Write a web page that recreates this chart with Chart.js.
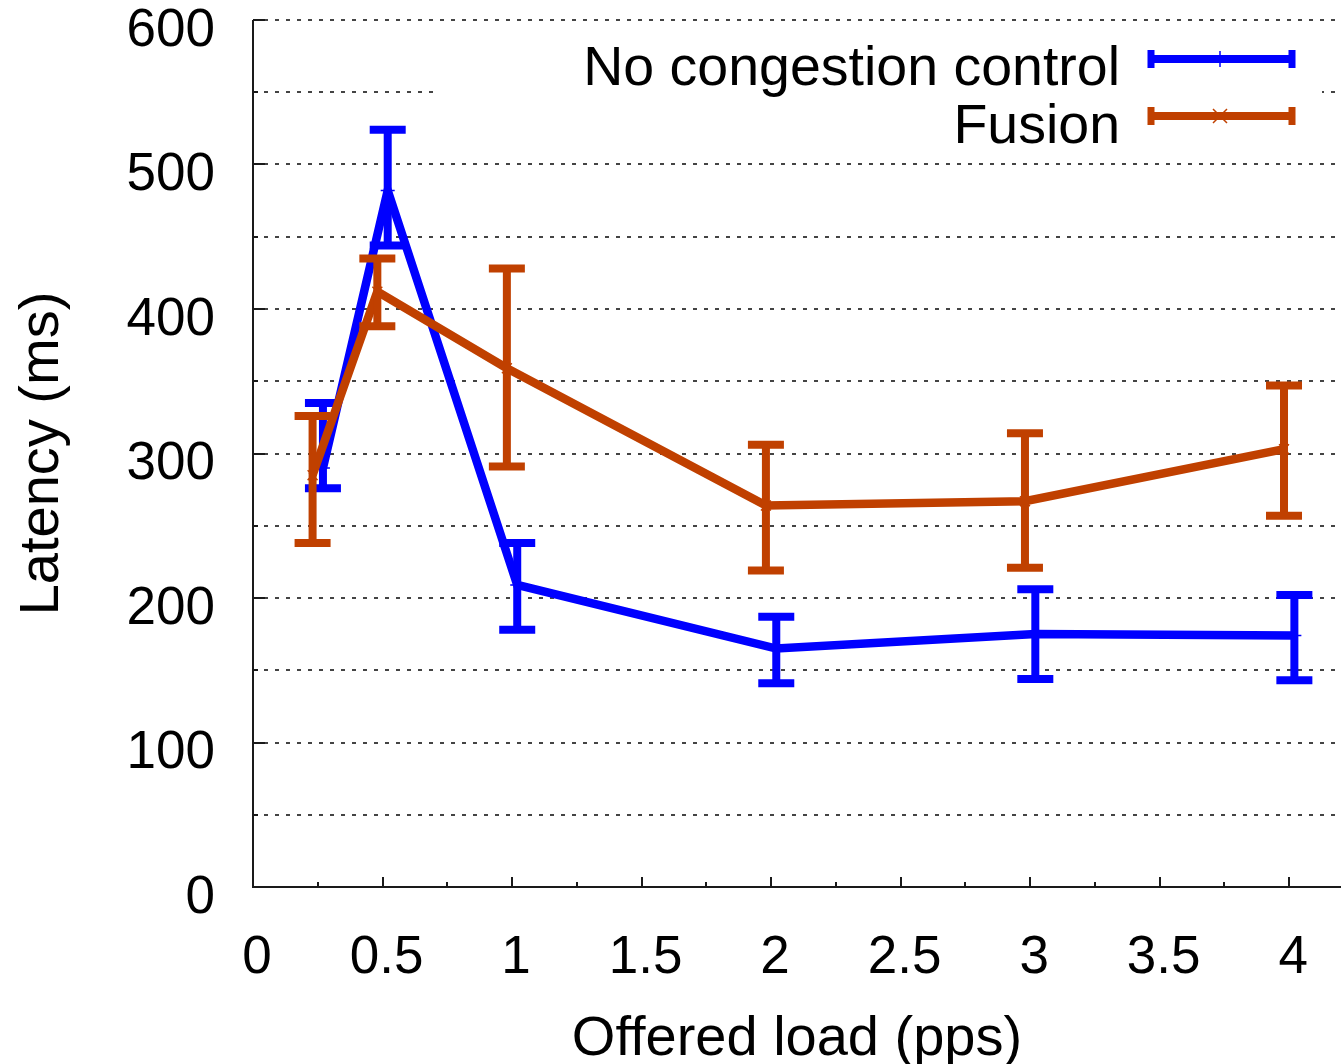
<!DOCTYPE html>
<html>
<head>
<meta charset="utf-8">
<title>Latency vs offered load</title>
<script src="https://cdn.jsdelivr.net/npm/chart.js@4.4.1/dist/chart.umd.min.js"></script>
<style>
  html, body { margin: 0; padding: 0; background: #ffffff; }
  #latency-chart { display: block; }
</style>
</head>
<body>
<canvas id="latency-chart" width="1341" height="1064"></canvas>
<script>
// offered load (pps) for each measurement
const loads = [0.25, 0.5, 1, 2, 3, 4];

// No congestion control: mean latency and error bar ends (ms)
const noCcLatency = [290, 482, 209, 165, 175, 174];
const noCcLow = [276, 444, 178, 141, 144, 143];
const noCcHigh = [335, 524, 238, 187, 206, 202];

// Fusion: mean latency and error bar ends (ms)
const fusionLatency = [285, 412, 359, 264, 267, 303];
const fusionLow = [238, 388, 291, 219, 221, 257];
const fusionHigh = [326, 435, 428, 306, 314, 347];

const seriesNames = ["No congestion control", "Fusion"];
const xTicks = [0, 0.5, 1, 1.5, 2, 2.5, 3, 3.5, 4];
const yTicks = [0, 100, 200, 300, 400, 500, 600];

const BLUE = "#0000ff";
const ORANGE = "#c04000";
const FONT = "'Liberation Sans', Arial, Helvetica, sans-serif";

// the two series are nudged apart a little on x so the bars don't overlap
function toPoints(values, shift) {
  return values.map((v, i) => ({ x: loads[i] + shift, y: v }));
}

const errorBars = {
  id: "errorBars",
  afterDatasetDraw(chart, args) {
    const ds = chart.data.datasets[args.index];
    if (!ds.errLow) return;
    const { ctx } = chart;
    const xs = chart.scales.x;
    const ys = chart.scales.y;
    ctx.save();
    ctx.strokeStyle = ds.borderColor;
    ctx.lineWidth = 8;
    ctx.lineCap = "butt";
    ds.data.forEach((p, i) => {
      const px = xs.getPixelForValue(p.x);
      const lo = ys.getPixelForValue(ds.errLow[i]);
      const hi = ys.getPixelForValue(ds.errHigh[i]);
      ctx.beginPath();
      ctx.moveTo(px, lo);
      ctx.lineTo(px, hi);
      ctx.moveTo(px - 18, lo);
      ctx.lineTo(px + 18, lo);
      ctx.moveTo(px - 18, hi);
      ctx.lineTo(px + 18, hi);
      ctx.stroke();
    });
    ctx.restore();
  },
};

const gnuplotFrame = {
  id: "gnuplotFrame",
  beforeDatasetsDraw(chart) {
    const { ctx, chartArea } = chart;
    const xs = chart.scales.x;
    const ys = chart.scales.y;
    ctx.save();

    // dotted grid at every major and minor y tick
    ctx.strokeStyle = "#444444";
    ctx.lineWidth = 2;
    ctx.setLineDash([4, 7]);
    for (let v = 50; v <= 600; v += 50) {
      const py = Math.round(ys.getPixelForValue(v));
      ctx.beginPath();
      ctx.moveTo(chartArea.left, py);
      ctx.lineTo(chartArea.right, py);
      ctx.stroke();
    }
    ctx.setLineDash([]);

    // axes
    ctx.strokeStyle = "#1a1a1a";
    ctx.beginPath();
    ctx.moveTo(chartArea.left, chartArea.top);
    ctx.lineTo(chartArea.left, chartArea.bottom);
    ctx.lineTo(chartArea.right, chartArea.bottom);
    ctx.stroke();

    // tick marks pointing inward
    ctx.beginPath();
    for (let v = 50; v <= 600; v += 50) {
      const py = Math.round(ys.getPixelForValue(v));
      const len = v % 100 === 0 ? 12 : 5;
      ctx.moveTo(chartArea.left, py);
      ctx.lineTo(chartArea.left + len, py);
    }
    for (let v = 0.25; v <= 4.2; v += 0.25) {
      const px = Math.round(xs.getPixelForValue(v));
      const len = Math.abs(v * 2 - Math.round(v * 2)) < 1e-6 ? 10 : 5;
      ctx.moveTo(px, chartArea.bottom);
      ctx.lineTo(px, chartArea.bottom - len);
    }
    ctx.stroke();

    // opaque key box hides the grid behind the legend
    ctx.fillStyle = "#ffffff";
    ctx.fillRect(440, 32, 882, 118);
    ctx.restore();
  },
  afterDraw(chart) {
    const { ctx } = chart;
    const rows = [
      { name: seriesNames[0], color: BLUE, baseline: 85, lineY: 59, marker: "plus" },
      { name: seriesNames[1], color: ORANGE, baseline: 143, lineY: 116, marker: "cross" },
    ];
    ctx.save();
    ctx.font = "55.5px " + FONT;
    ctx.textAlign = "right";
    ctx.textBaseline = "alphabetic";
    rows.forEach((r) => {
      ctx.fillStyle = "#000000";
      ctx.fillText(r.name, 1120, r.baseline);

      ctx.strokeStyle = r.color;
      ctx.lineWidth = 8;
      ctx.beginPath();
      ctx.moveTo(1148, r.lineY);
      ctx.lineTo(1295, r.lineY);
      ctx.stroke();
      ctx.lineWidth = 7;
      ctx.beginPath();
      ctx.moveTo(1151, r.lineY - 9);
      ctx.lineTo(1151, r.lineY + 9);
      ctx.moveTo(1292, r.lineY - 9);
      ctx.lineTo(1292, r.lineY + 9);
      ctx.stroke();

      ctx.lineWidth = 1.5;
      ctx.beginPath();
      if (r.marker === "plus") {
        ctx.moveTo(1220, r.lineY - 8);
        ctx.lineTo(1220, r.lineY + 8);
      } else {
        ctx.moveTo(1213, r.lineY - 7);
        ctx.lineTo(1227, r.lineY + 7);
        ctx.moveTo(1227, r.lineY - 7);
        ctx.lineTo(1213, r.lineY + 7);
      }
      ctx.stroke();
    });
    ctx.restore();
  },
};

const ctx = document.getElementById("latency-chart").getContext("2d");

new Chart(ctx, {
  type: "line",
  data: {
    datasets: [
      {
        label: seriesNames[0],
        data: toPoints(noCcLatency, 0.02),
        errLow: noCcLow,
        errHigh: noCcHigh,
        borderColor: BLUE,
        backgroundColor: BLUE,
        borderWidth: 8.5,
        borderJoinStyle: "miter",
        borderCapStyle: "butt",
        pointStyle: "cross",
        pointRadius: 7,
        pointBorderWidth: 1.5,
        pointBorderColor: BLUE,
        tension: 0,
        fill: false,
        order: 1,
      },
      {
        label: seriesNames[1],
        data: toPoints(fusionLatency, -0.02),
        errLow: fusionLow,
        errHigh: fusionHigh,
        borderColor: ORANGE,
        backgroundColor: ORANGE,
        borderWidth: 8.5,
        borderJoinStyle: "miter",
        borderCapStyle: "butt",
        pointStyle: "crossRot",
        pointRadius: 7,
        pointBorderWidth: 1.5,
        pointBorderColor: ORANGE,
        tension: 0,
        fill: false,
        order: 0,
      },
    ],
  },
  options: {
    responsive: false,
    animation: false,
    layout: { autoPadding: false, padding: { top: 20, right: 0, bottom: 0, left: 0 } },
    plugins: {
      legend: { display: false },
      tooltip: { enabled: false },
    },
    scales: {
      x: {
        type: "linear",
        min: 0,
        max: 4.2,
        afterBuildTicks: (scale) => {
          scale.ticks = xTicks.map((v) => ({ value: v }));
        },
        afterFit: (scale) => {
          scale.height = 177;
          scale.paddingLeft = 0;
          scale.paddingRight = 0;
        },
        grid: { display: false, drawTicks: false },
        border: { display: false },
        ticks: {
          autoSkip: false,
          maxRotation: 0,
          padding: 40,
          labelOffset: 4,
          color: "#000000",
          font: { family: FONT, size: 53 },
          callback: (v) => String(v),
        },
        title: {
          display: true,
          text: "Offered load (pps)",
          color: "#000000",
          font: { family: FONT, size: 56, lineHeight: 0.85 },
          padding: { top: 0, bottom: 1 },
        },
      },
      y: {
        type: "linear",
        min: 0,
        max: 600,
        afterBuildTicks: (scale) => {
          scale.ticks = yTicks.map((v) => ({ value: v }));
        },
        afterFit: (scale) => {
          scale.width = 253;
          scale.paddingTop = 0;
          scale.paddingBottom = 0;
        },
        grid: { display: false, drawTicks: false },
        border: { display: false },
        ticks: {
          padding: 38,
          labelOffset: 11,
          color: "#000000",
          font: { family: FONT, size: 53 },
          callback: (v) => String(v),
        },
        title: {
          display: true,
          text: "Latency (ms)",
          color: "#000000",
          font: { family: FONT, size: 56, lineHeight: 0.85 },
          padding: { top: 19, bottom: 0 },
        },
      },
    },
  },
  plugins: [gnuplotFrame, errorBars],
});
</script>
</body>
</html>
